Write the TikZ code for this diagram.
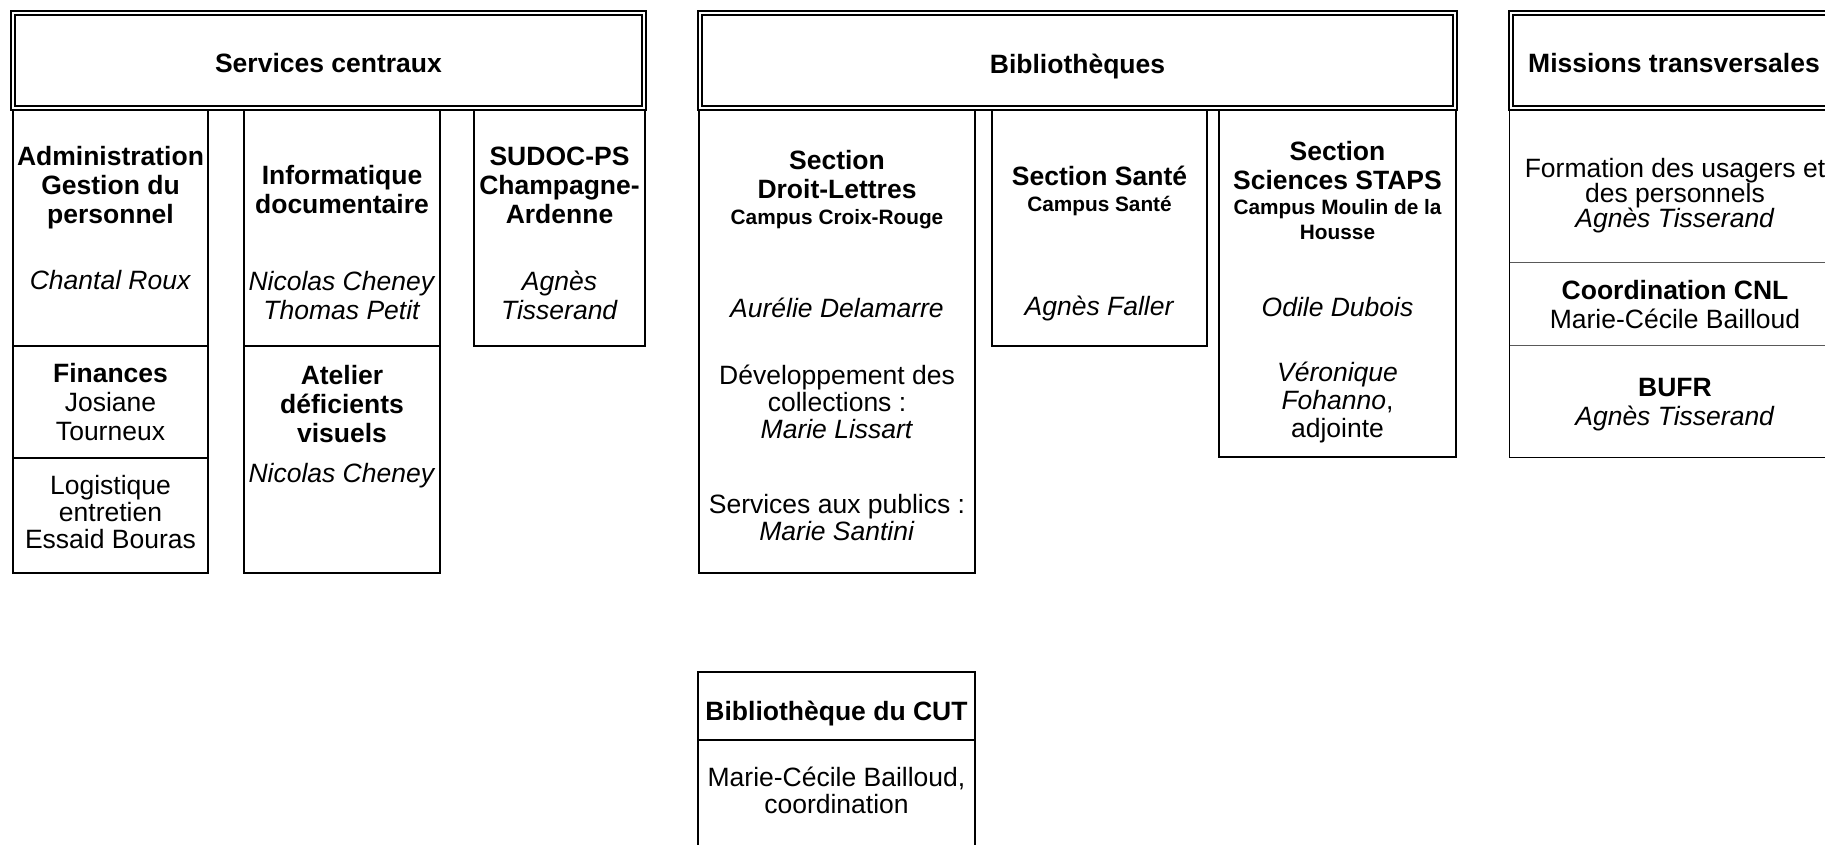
\documentclass[tikz,border=0pt]{standalone}
\usepackage{fontspec}
\setmainfont{Liberation Sans}
\usetikzlibrary{fit}
\usetikzlibrary{positioning}
\newcommand{\txtsize}{\fontsize{13.25}{14.5}\selectfont}
\newcommand{\campus}{\fontsize{10.4}{12.5}\selectfont\bfseries}
\tikzset{
  head/.style={draw, double, line width=0.7pt, double distance=1.2pt, inner sep=0pt},
  cell/.style={draw, line width=0.65pt, inner sep=0pt},
  zone/.style={inner sep=0pt},
  txt/.style={inner sep=0pt, align=center, font=\txtsize},
  frame/.style={line width=0.65pt},
  sep/.style={line width=0.5pt, black!65},
}

\begin{document}
\begin{tikzpicture}[x=0.5pt,y=-0.5pt]

        \useasboundingbox (0,0) rectangle (1825,845);
        \clip (0,0) rectangle (1825,845);

        % en-tetes
        \node[head, fit={(13,13) (644,108)}] (central) {};
        \node[head, fit={(700,13) (1455,108)}] (biblio) {};
        \node[head, fit={(1511,13) (1837,108)}] (missions) {};

        \node[txt, font=\txtsize\bfseries, below=20.5pt of central.north] (tcentral) {Services centraux};
        \node[txt, font=\txtsize\bfseries, below=20.5pt of biblio.north] (tbiblio) {Bibliothèques};
        \node[txt, font=\txtsize\bfseries, below=20.5pt of missions.north] (tmissions) {Missions transversales};

        % services centraux
        \node[cell, fit={(13,110) (208,346)}] (admin) {};
        \node[cell, fit={(13,346) (208,458)}] (finances) {};
        \node[cell, fit={(13,458) (208,573)}] (logist) {};
        \node[cell, fit={(244,110) (440,346)}] (info) {};
        \node[cell, fit={(244,346) (440,573)}] (atelier) {};
        \node[cell, fit={(474,110) (645,346)}] (sudoc) {};

        \node[txt, below=18.5pt of admin.north] (tadmin) {\textbf{Administration}\\\textbf{Gestion du}\\\textbf{personnel}\\[18.5pt]\textit{Chantal Roux}};
        \node[txt, below=9pt of finances.north] (tfinances) {\textbf{Finances}\\Josiane\\Tourneux};
        \node[txt, below=9pt of logist.north] (tlogist) {Logistique\\[-1pt]entretien\\[-1pt]Essaid Bouras};
        \node[txt, below=28pt of info.north] (tinfo) {\textbf{Informatique}\\\textbf{documentaire}\\[24pt]\textit{Nicolas Cheney}\\\textit{Thomas Petit}};
        \node[txt, below=10pt of atelier.north] (tatelier) {\textbf{Atelier}\\\textbf{déficients}\\\textbf{visuels}\\[5.5pt]\textit{Nicolas Cheney}};
        \node[txt, below=18.5pt of sudoc.north] (tsudoc) {\textbf{SUDOC-PS}\\\textbf{Champagne-}\\\textbf{Ardenne}\\[19pt]\textit{Agnès}\\\textit{Tisserand}};

        % bibliotheques
        \node[cell, fit={(699,110) (975,573)}] (droit) {};
        \node[cell, fit={(992,110) (1207,346)}] (sante) {};
        \node[cell, fit={(1219,110) (1456,457)}] (staps) {};

        \node[txt, below=20.5pt of droit.north] (tdroit) {\textbf{Section}\\\textbf{Droit-Lettres}\\[-1.5pt]{\campus Campus Croix-Rouge}\\[32pt]\textit{Aurélie Delamarre}\\[19pt]Développement des\\[-1pt]collections :\\[-1pt]\textit{Marie Lissart}\\[23pt]Services aux publics :\\[-1pt]\textit{Marie Santini}};
        \node[txt, below=28pt of sante.north] (tsante) {\textbf{Section Santé}\\[-1.5pt]{\campus Campus Santé}\\[37.5pt]\textit{Agnès Faller}};
        \node[txt, below=16pt of staps.north] (tstaps) {\textbf{Section}\\\textbf{Sciences STAPS}\\[-2pt]{\campus Campus Moulin de la}\\[-2pt]{\campus Housse}\\[24pt]\textit{Odile Dubois}\\[18pt]\textit{Véronique}\\[-0.5pt]\textit{Fohanno},\\[-0.5pt]adjointe};

        % missions transversales
        \node[zone, fit={(1510,110) (1840,263)}] (forma) {};
        \node[zone, fit={(1510,263) (1840,346)}] (cnl) {};
        \node[zone, fit={(1510,346) (1840,457)}] (bufr) {};
        \draw[frame] (forma.north west) rectangle (bufr.south east);
        \draw[sep] (cnl.north west) -- (cnl.north east);
        \draw[sep] (bufr.north west) -- (bufr.north east);

        \node[txt, below=24pt of forma.north] (tforma) {Formation des usagers et\\[-2pt]des personnels\\[-2pt]\textit{Agnès Tisserand}};
        \node[txt, below=8.5pt of cnl.north] (tcnl) {\textbf{Coordination CNL}\\Marie-Cécile Bailloud};
        \node[txt, below=16pt of bufr.north] (tbufr) {\textbf{BUFR}\\\textit{Agnès Tisserand}};

        % CUT
        \node[cell, fit={(698,672) (975,740)}] (cut) {};
        \node[cell, fit={(698,740) (975,900)}] (coord) {};

        \node[txt, font=\txtsize\bfseries, below=14.5pt of cut.north] (tcut) {Bibliothèque du CUT};
        \node[txt, below=13.5pt of coord.north] (tcoord) {Marie-Cécile Bailloud,\\[-1pt]coordination};

\end{tikzpicture}
\end{document}
